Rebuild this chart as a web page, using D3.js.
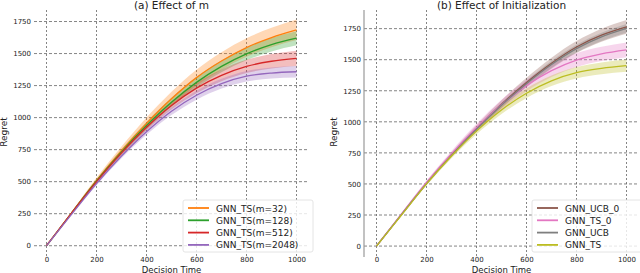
<!DOCTYPE html>
<html>
<head>
<meta charset="utf-8">
<script src="https://cdn.jsdelivr.net/npm/d3@7"></script>
<style>
  body { margin: 0; background: #fff; }
  svg text { font-family: "DejaVu Sans", sans-serif; fill: #222; }
</style>
</head>
<body>
<svg id="chart" width="640" height="273"></svg>
<script>
"use strict";

// Decision time points shared by every series
const times = [0, 100, 200, 300, 400, 500, 600, 700, 800, 900, 1000];
const xTicks = [0, 200, 400, 600, 800, 1000];
const yTicks = [0, 250, 500, 750, 1000, 1250, 1500, 1750];

// (a) Effect of m
const namesA = ['GNN_TS(m=32)', 'GNN_TS(m=128)', 'GNN_TS(m=512)', 'GNN_TS(m=2048)'];
const colorsA = ['#ff7f0e', '#2ca02c', '#d62728', '#9467bd'];
const meanM32   = [0, 255, 510, 742, 955, 1147, 1312, 1442, 1547, 1625, 1685];
const meanM128  = [0, 255, 505, 733, 938, 1120, 1275, 1400, 1498, 1570, 1620];
const meanM512  = [0, 255, 500, 725, 925, 1095, 1230, 1330, 1400, 1440, 1462];
const meanM2048 = [0, 245, 485, 700, 890, 1050, 1175, 1265, 1323, 1348, 1358];
const sdM32   = [0, 10, 20, 32, 45, 55, 62, 68, 72, 76, 80];
const sdM128  = [0, 6, 12, 20, 28, 35, 42, 46, 50, 53, 55];
const sdM512  = [0, 6, 12, 18, 25, 32, 40, 46, 52, 56, 60];
const sdM2048 = [0, 6, 12, 18, 24, 30, 35, 38, 41, 43, 45];

// (b) Effect of initialization
const namesB = ['GNN_UCB_0', 'GNN_TS_0', 'GNN_UCB', 'GNN_TS'];
const colorsB = ['#8c564b', '#e377c2', '#7f7f7f', '#bcbd22'];
const meanUcb0 = [0, 255, 505, 735, 947, 1142, 1317, 1472, 1602, 1697, 1764];
const meanTs0  = [0, 258, 512, 742, 952, 1137, 1292, 1412, 1497, 1547, 1579];
const meanUcb  = [0, 253, 502, 730, 940, 1133, 1307, 1461, 1589, 1684, 1752];
const meanTs   = [0, 250, 500, 725, 925, 1095, 1230, 1330, 1395, 1430, 1452];
const sdUcb0 = [0, 6, 12, 18, 25, 32, 38, 44, 48, 52, 55];
const sdTs0  = [0, 8, 16, 24, 32, 40, 46, 52, 56, 58, 60];
const sdUcb  = [0, 4, 8, 12, 16, 20, 24, 28, 31, 33, 35];
const sdTs   = [0, 6, 12, 18, 25, 32, 38, 42, 46, 48, 50];

const panels = [
    {title: '(a) Effect of m', left: 34, yTop: 1840, spine: false,
     names: namesA, colors: colorsA,
     means: [meanM32, meanM128, meanM512, meanM2048],
     sds: [sdM32, sdM128, sdM512, sdM2048],
     legend: {x: 183, y: 200, w: 130}},
    {title: '(b) Effect of Initialization', left: 364, yTop: 1900, spine: true,
     names: namesB, colors: colorsB,
     means: [meanUcb0, meanTs0, meanUcb, meanTs],
     sds: [sdUcb0, sdTs0, sdUcb, sdTs],
     legend: {x: 532, y: 200, w: 110}}
];

const svg = d3.select('#chart');
const plotW = 275, plotTop = 10, plotBottom = 257;

panels.forEach(function (p) {
    let x = d3.scaleLinear().domain([-50, 1050]).range([p.left, p.left + plotW]);
    let y = d3.scaleLinear().domain([-88, p.yTop]).range([plotBottom, plotTop]);
    let g = svg.append('g');

    // Grid lines
    g.append('g').selectAll('line').data(xTicks).enter().append('line')
        .attr('x1', d => x(d)).attr('x2', d => x(d))
        .attr('y1', plotTop).attr('y2', plotBottom)
        .attr('stroke', '#666').attr('stroke-width', 0.8)
        .attr('stroke-dasharray', '2,2');
    g.append('g').selectAll('line').data(yTicks).enter().append('line')
        .attr('x1', p.left).attr('x2', p.left + plotW)
        .attr('y1', d => y(d)).attr('y2', d => y(d))
        .attr('stroke', '#666').attr('stroke-width', 0.8)
        .attr('stroke-dasharray', '3,2');

    if (p.spine) {
        g.append('line')
            .attr('x1', p.left).attr('x2', p.left)
            .attr('y1', plotTop).attr('y2', plotBottom)
            .attr('stroke', '#999').attr('stroke-width', 1.2);
    }

    // Axes (labels only, no tick marks)
    let xAxis = g.append('g')
        .attr('transform', 'translate(0,' + (plotBottom - 1) + ')')
        .call(d3.axisBottom(x).tickValues(xTicks).tickFormat(d3.format('d'))
            .tickSize(0).tickPadding(1));
    let yAxis = g.append('g')
        .attr('transform', 'translate(' + p.left + ',0)')
        .call(d3.axisLeft(y).tickValues(yTicks).tickFormat(d3.format('d'))
            .tickSize(0).tickPadding(3));
    [xAxis, yAxis].forEach(function (a) {
        a.select('.domain').remove();
        a.selectAll('text').style('font-size', '7px').style('fill', '#222');
    });

    // Bands then lines
    let area = d3.area()
        .x((d, i) => x(times[i]))
        .y0(d => y(d[0]))
        .y1(d => y(d[1]))
        .curve(d3.curveMonotoneX);
    let line = d3.line()
        .x((d, i) => x(times[i]))
        .y(d => y(d))
        .curve(d3.curveMonotoneX);
    p.means.forEach(function (m, k) {
        let band = m.map((v, i) => [v - p.sds[k][i], v + p.sds[k][i]]);
        g.append('path').datum(band)
            .attr('d', area)
            .attr('fill', p.colors[k]).attr('fill-opacity', 0.3);
    });
    p.means.forEach(function (m, k) {
        g.append('path').datum(m)
            .attr('d', line)
            .attr('fill', 'none')
            .attr('stroke', p.colors[k]).attr('stroke-width', 1.3);
    });

    // Titles
    let cx = p.left + plotW / 2;
    g.append('text').attr('x', cx).attr('y', 9)
        .attr('text-anchor', 'middle').style('font-size', '10.5px')
        .text(p.title);
    g.append('text').attr('x', cx).attr('y', 272.5)
        .attr('text-anchor', 'middle').style('font-size', '8.5px')
        .text('Decision Time');
    g.append('text')
        .attr('transform', 'translate(' + (p.left - 27) + ',' + 132 + ') rotate(-90)')
        .attr('text-anchor', 'middle').style('font-size', '9px')
        .text('Regret');

    // Legend
    let lg = g.append('g').attr('transform', 'translate(' + p.legend.x + ',' + p.legend.y + ')');
    lg.append('rect').attr('width', p.legend.w).attr('height', 52)
        .attr('rx', 2).attr('fill', '#fff').attr('fill-opacity', 0.8)
        .attr('stroke', '#ddd').attr('stroke-width', 0.8);
    p.names.forEach(function (n, k) {
        let ry = 8 + k * 12.3;
        lg.append('line').attr('x1', 5).attr('x2', 26)
            .attr('y1', ry).attr('y2', ry)
            .attr('stroke', p.colors[k]).attr('stroke-width', 1.8);
        lg.append('text').attr('x', 33).attr('y', ry + 3.5)
            .style('font-size', '9px').text(n);
    });
});
</script>
</body>
</html>
